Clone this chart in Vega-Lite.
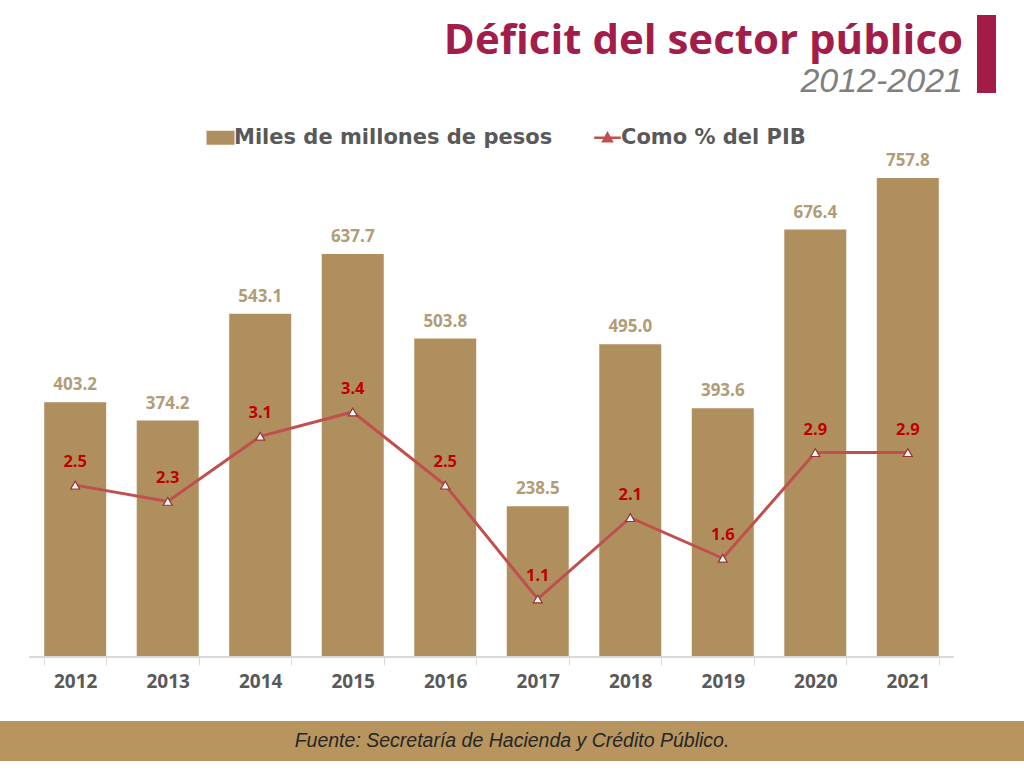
{
  "$schema": "https://vega.github.io/schema/vega-lite/v6.json",
  "padding": {"top": 15, "left": 0, "right": 0, "bottom": 0},
  "background": "white",
  "spacing": 28,
  "config": {"view": {"stroke": null}},
  "resolve": {"scale": {"color": "independent"}, "legend": {"color": "independent"}},
  "vconcat": [
    {
      "spacing": 14,
      "hconcat": [
        {
          "width": 963,
          "height": 1,
          "data": {"values": []},
          "mark": "point",
          "title": {
            "text": "Déficit del sector público",
            "subtitle": "2012-2021",
            "orient": "bottom",
            "anchor": "end",
            "font": "Open Sans",
            "fontSize": 42,
            "fontWeight": "bold",
            "color": "#a21d4a",
            "subtitleFont": "Liberation Sans",
            "subtitleFontSize": 34,
            "subtitleFontStyle": "italic",
            "subtitleColor": "#7f7f7f",
            "subtitlePadding": 2,
            "offset": 5
          }
        },
        {
          "width": 19,
          "height": 78,
          "data": {"values": [{"a": 1}]},
          "mark": {"type": "rect", "color": "#a31c48"},
          "encoding": {}
        }
      ]
    },
    {
      "spacing": 30,
      "resolve": {"scale": {"color": "independent"}, "legend": {"color": "independent"}},
      "vconcat": [
        {
          "width": 983,
          "height": 504,
          "data": {
            "values": [
              {"anio": "2012", "monto": 403.2, "pib": 2.5},
              {"anio": "2013", "monto": 374.2, "pib": 2.3},
              {"anio": "2014", "monto": 543.1, "pib": 3.1},
              {"anio": "2015", "monto": 637.7, "pib": 3.4},
              {"anio": "2016", "monto": 503.8, "pib": 2.5},
              {"anio": "2017", "monto": 238.5, "pib": 1.1},
              {"anio": "2018", "monto": 495.0, "pib": 2.1},
              {"anio": "2019", "monto": 393.6, "pib": 1.6},
              {"anio": "2020", "monto": 676.4, "pib": 2.9},
              {"anio": "2021", "monto": 757.8, "pib": 2.9}
            ]
          },
          "encoding": {
            "x": {
              "field": "anio",
              "type": "ordinal",
              "scale": {"paddingInner": 0.33, "paddingOuter": 0.478},
              "axis": {
                "title": null,
                "labelAngle": 0,
                "labelFont": "Open Sans",
                "labelFontSize": 19,
                "labelFontWeight": "bold",
                "labelColor": "#595959",
                "labelPadding": 7,
                "tickBand": "extent",
                "tickSize": 8,
                "tickColor": "#d9d9d9",
                "domain": false,
                "grid": false
              }
            }
          },
          "layer": [
            {
              "encoding": {
                "y": {
                  "field": "monto",
                  "type": "quantitative",
                  "scale": {"domain": [0, 797.5], "nice": false},
                  "axis": null
                }
              },
              "layer": [
                {
                  "mark": {"type": "bar"},
                  "encoding": {
                    "color": {
                      "datum": "Miles de millones de pesos",
                      "type": "nominal",
                      "scale": {"domain": ["Miles de millones de pesos", "Como % del PIB"], "range": ["#b08f5e", "#c0504d"]},
                      "legend": {
                        "orient": "none",
                        "legendX": 210,
                        "legendY": -26,
                        "title": null,
                        "direction": "horizontal",
                        "labelFont": "DejaVu Sans",
                        "labelFontSize": 21,
                        "labelFontWeight": "bold",
                        "labelColor": "#595959",
                        "labelLimit": 400,
                        "symbolSize": 784,
                        "columnPadding": 36,
                        "labelOffset": 3,
                        "encode": {
                          "symbols": {
                            "update": {
                              "shape": {"signal": "datum.label === 'Como % del PIB' ? 'M-0.95,0H0.95M0,-0.3L0.3,0.25H-0.3Z' : 'M-1,-0.5H1V0.5H-1Z'"},
                              "fill": {"signal": "datum.label === 'Como % del PIB' ? '#ffffff' : '#b08f5e'"},
                              "stroke": {"signal": "datum.label === 'Como % del PIB' ? '#c0504d' : '#b08f5e'"},
                              "strokeWidth": {"signal": "datum.label === 'Como % del PIB' ? 2.5 : 0"}
                            }
                          }
                        }
                      }
                    }
                  }
                },
                {
                  "mark": {"type": "rule", "color": "#d9d9d9", "strokeWidth": 1},
                  "encoding": {
                    "x": {"datum": "2012", "bandPosition": -0.246},
                    "x2": {"datum": "2021", "bandPosition": 1.246},
                    "y": {"datum": 0}
                  }
                },
                {
                  "mark": {"type": "text", "dy": -17, "font": "Open Sans", "fontSize": 17, "fontWeight": "bold", "color": "#b09d78"},
                  "encoding": {"text": {"field": "monto", "type": "quantitative", "format": ".1f"}}
                }
              ]
            },
            {
              "encoding": {
                "y": {
                  "field": "pib",
                  "type": "quantitative",
                  "scale": {"domain": [0.386, 6.585], "nice": false, "zero": false},
                  "axis": null
                }
              },
              "layer": [
                {
                  "mark": {"type": "line", "strokeWidth": 3},
                  "encoding": {"color": {"datum": "Como % del PIB", "type": "nominal"}}
                },
                {
                  "mark": {"type": "point", "shape": "triangle-up", "size": 80, "filled": true, "fill": "#ffffff", "stroke": "#9c2f2f", "strokeWidth": 1.2, "opacity": 1}
                },
                {
                  "mark": {"type": "text", "dy": -23, "font": "Open Sans", "fontSize": 16.5, "fontWeight": "bold", "color": "#c00000"},
                  "encoding": {"text": {"field": "pib", "type": "quantitative", "format": ".1f"}}
                }
              ]
            }
          ],
          "resolve": {"scale": {"y": "independent"}}
        },
        {
          "width": 1024,
          "height": 40,
          "view": {"fill": "#b8955f", "stroke": null},
          "data": {"values": [{"t": "Fuente: Secretaría de Hacienda y Crédito Público."}]},
          "mark": {"type": "text", "font": "Liberation Sans", "fontSize": 19.5, "fontStyle": "italic", "color": "#262626"},
          "encoding": {"text": {"field": "t", "type": "nominal"}}
        }
      ]
    }
  ]
}
